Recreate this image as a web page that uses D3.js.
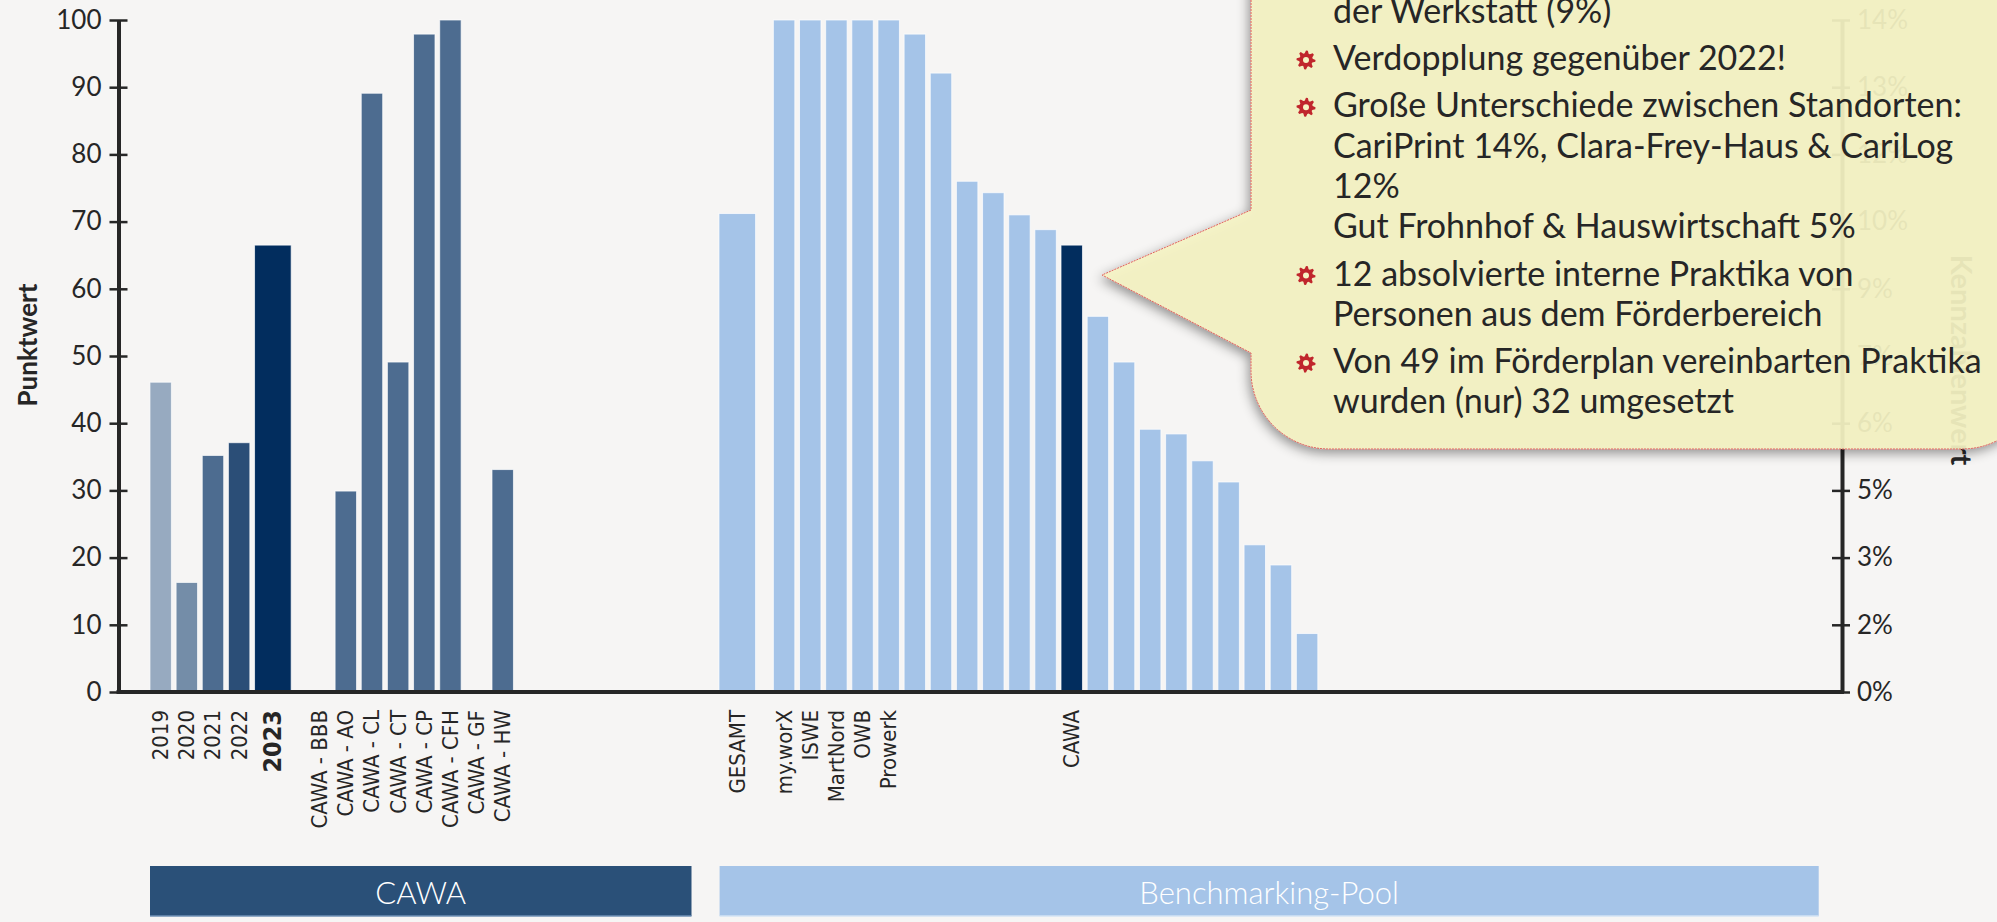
<!DOCTYPE html>
<html>
<head>
<meta charset="utf-8">
<script src="https://cdn.jsdelivr.net/npm/d3@7"></script>
<style>
  body { margin: 0; background: #f6f5f4; }
  svg { display: block; }
</style>
</head>
<body>
<script>
// chart values
var yearCats = ["2019", "2020", "2021", "2022", "2023"];
var yearVals = [46.1, 16.3, 35.2, 37.1, 66.5];
var siteCats = ["CAWA - BBB", "CAWA - AO", "CAWA - CL", "CAWA - CT", "CAWA - CP", "CAWA - CFH", "CAWA - GF", "CAWA - HW"];
var siteVals = [null, 29.9, 89.1, 49.1, 97.9, 100, null, 33.1];
var totalCat = "GESAMT";
var totalVal = 71.2;
var memberCats = ["my.worX", "ISWE", "MartNord", "OWB", "Prowerk", "", "", "", "", "", "", "CAWA", "", "", "", "", "", "", "", "", ""];
var memberVals = [100, 100, 100, 100, 100, 97.9, 92.1, 76.0, 74.3, 71.0, 68.8, 66.5, 55.9, 49.1, 39.1, 38.4, 34.4, 31.25, 21.9, 18.9, 8.7];
var yTicks = [0, 10, 20, 30, 40, 50, 60, 70, 80, 90, 100];
var rightTickLabels = ["0%", "2%", "3%", "5%", "6%", "7%", "9%", "10%", "12%", "13%", "14%"];
var groupNames = ["CAWA", "Benchmarking-Pool"];
var calloutParas = [
    ["der Werkstatt (9%)"],
    ["Verdopplung gegenüber 2022!"],
    ["Große Unterschiede zwischen Standorten:", "CariPrint 14%, Clara-Frey-Haus & CariLog", "12%", "Gut Frohnhof & Hauswirtschaft 5%"],
    ["12 absolvierte interne Praktika von", "Personen aus dem Förderbereich"],
    ["Von 49 im Förderplan vereinbarten Praktika", "wurden (nur) 32 umgesetzt"]
];

// styles
var yearColors = ["#97aac0", "#748da8", "#4d6c90", "#2b4e77", "#022d5e"];
var siteColor = "#4d6c90";
var poolColor = "#a5c4e8";
var focusColor = "#022d5e";
var ink = "#262626";
var W = 1997, H = 922;

// slot layout in "category units": wide bars for the current year and the pool total
var wideUnits = 1.58, afterWide = 0.5, groupGap = 7.68;
var slots = [];
var u = 0;
function addSlot(label, value, color, wide, bold) {
    var w = wide ? wideUnits : 1;
    slots.push({label: label, value: value, color: color, u0: u, u1: u + w, bold: bold});
    u += w;
    if (wide) u += afterWide;
}
yearCats.forEach(function(c, i) {
    var last = i === yearCats.length - 1;
    addSlot(c, yearVals[i], yearColors[i], last, last);
});
siteCats.forEach(function(c, i) { addSlot(c, siteVals[i], siteColor, false, false); });
u += groupGap;
addSlot(totalCat, totalVal, poolColor, true, false);
memberCats.forEach(function(c, i) { addSlot(c, memberVals[i], c === "CAWA" ? focusColor : poolColor, false, false); });

var step = 26.15, left0 = 147.6;
var x = d3.scaleLinear().domain([0, u]).range([left0, left0 + u * step]);
var y = d3.scaleLinear().domain([0, 100]).range([692, 20]);
var axisL = 118.5, axisR = 1842;

var svg = d3.select("body").append("svg")
        .attr("width", W)
        .attr("height", H);

svg.append("rect")
        .attr("width", W)
        .attr("height", H)
        .style("fill", "#f6f5f4");

var defs = svg.append("defs");
defs.append("filter")
        .attr("id", "shadow")
        .attr("x", "-10%").attr("y", "-10%")
        .attr("width", "130%").attr("height", "130%")
        .append("feDropShadow")
        .attr("dx", -2).attr("dy", 4)
        .attr("stdDeviation", 6)
        .attr("flood-color", "#000")
        .attr("flood-opacity", 0.45);

// bars
var pad = 0.09;
svg.append("g").selectAll("rect")
        .data(slots.filter(function(d) { return d.value != null; }))
        .enter()
        .append("rect")
        .attr("x", function(d) { return x(d.u0 + pad); })
        .attr("width", function(d) { return x(d.u1 - pad) - x(d.u0 + pad); })
        .attr("y", function(d) { return y(d.value); })
        .attr("height", function(d) { return y(0) - y(d.value); })
        .style("fill", function(d) { return d.color; })
        .style("stroke", "#ffffff")
        .style("stroke-opacity", 0.7)
        .style("stroke-width", 1);

// category labels, rotated
svg.append("g").selectAll("text")
        .data(slots.filter(function(d) { return d.label !== ""; }))
        .enter()
        .append("text")
        .attr("transform", function(d) { return "translate(" + x((d.u0 + d.u1) / 2) + ",710) rotate(-90)"; })
        .attr("text-anchor", "end")
        .attr("dominant-baseline", "central")
        .style("font-family", "'DejaVu Sans Condensed', 'DejaVu Sans', sans-serif")
        .style("font-stretch", "condensed")
        .style("font-size", function(d) { return d.bold ? "25px" : "22px"; })
        .style("font-weight", function(d) { return d.bold ? "bold" : "normal"; })
        .style("fill", ink)
        .text(function(d) { return d.label; });

// left axis
var gl = svg.append("g")
        .attr("transform", "translate(" + axisL + ",0)")
        .call(d3.axisLeft(y).tickValues(yTicks).tickSize(9).tickSizeOuter(0).tickPadding(8));
gl.select(".domain").attr("stroke", ink).attr("stroke-width", 4);
gl.selectAll(".tick line").attr("x1", 9).attr("stroke", ink).attr("stroke-width", 2.5);
gl.selectAll(".tick text")
        .style("font-family", "Lato, sans-serif")
        .style("font-size", "26px")
        .style("fill", ink);

// right axis, same grid with its own labels
var gr = svg.append("g")
        .attr("transform", "translate(" + axisR + ",0)")
        .call(d3.axisRight(y).tickValues(yTicks).tickSize(8).tickSizeOuter(0).tickPadding(7)
            .tickFormat(function(d, i) { return rightTickLabels[i]; }));
gr.select(".domain").attr("stroke", ink).attr("stroke-width", 4);
gr.selectAll(".tick line").attr("x1", -10).attr("stroke", ink).attr("stroke-width", 2.5);
gr.selectAll(".tick text")
        .style("font-family", "Lato, sans-serif")
        .style("font-size", "26px")
        .style("fill", ink);

// x axis line
svg.append("line")
        .attr("x1", axisL - 2).attr("x2", axisR + 2)
        .attr("y1", y(0)).attr("y2", y(0))
        .attr("stroke", ink)
        .attr("stroke-width", 4);

// axis titles
svg.append("text")
        .attr("transform", "translate(27," + (y(50) - 11) + ") rotate(-90)")
        .attr("text-anchor", "middle")
        .attr("dominant-baseline", "central")
        .style("font-family", "Lato, sans-serif")
        .style("font-weight", "bold")
        .style("font-size", "26px")
        .style("fill", ink)
        .text("Punktwert");

svg.append("text")
        .attr("transform", "translate(1962," + (y(50) + 4) + ") rotate(90)")
        .attr("text-anchor", "middle")
        .attr("dominant-baseline", "central")
        .style("font-family", "Lato, sans-serif")
        .style("font-weight", "bold")
        .style("font-size", "29px")
        .style("fill", ink)
        .text("Kennzahlenwert");

// group boxes under the axis
var groups = [
    {name: groupNames[0], x0: 150, x1: 691.5, fill: "#2a5078", edge: "#6f90b6"},
    {name: groupNames[1], x0: 719.6, x1: 1818.7, fill: "#a5c4e8", edge: "#d3e3f5"}
];
var gb = svg.append("g").selectAll("g")
        .data(groups)
        .enter()
        .append("g");
gb.append("rect")
        .attr("x", function(d) { return d.x0; })
        .attr("y", 866)
        .attr("width", function(d) { return d.x1 - d.x0; })
        .attr("height", 50)
        .style("fill", function(d) { return d.fill; });
gb.append("line")
        .attr("x1", function(d) { return d.x0; })
        .attr("x2", function(d) { return d.x1; })
        .attr("y1", 916).attr("y2", 916)
        .attr("stroke", function(d) { return d.edge; })
        .attr("stroke-width", 1.5);
gb.append("text")
        .attr("x", function(d) { return (d.x0 + d.x1) / 2; })
        .attr("y", 904)
        .attr("text-anchor", "middle")
        .style("font-family", "Lato, sans-serif")
        .style("font-weight", 300)
        .style("font-size", "31px")
        .style("fill", "#ffffff")
        .text(function(d) { return d.name; });

// callout bubble
var cl = 1251, cb = 449, cr = 2040, ct = -60, rad = 78;
var bubble = d3.path();
bubble.moveTo(cl, ct);
bubble.lineTo(cl, 210);
bubble.lineTo(1102, 275);
bubble.lineTo(cl, 353);
bubble.lineTo(cl, cb - rad);
bubble.arcTo(cl, cb, cl + rad, cb, rad);
bubble.lineTo(cr - rad, cb);
bubble.arcTo(cr, cb, cr, cb - rad, rad);
bubble.lineTo(cr, ct);
bubble.closePath();

svg.append("path")
        .attr("d", bubble.toString())
        .attr("filter", "url(#shadow)")
        .style("fill", "#f6f4c4")
        .style("fill-opacity", 0.9)
        .style("stroke", "#e0605a")
        .style("stroke-width", 1)
        .style("stroke-dasharray", "2,1");

// callout text
var textX = 1333, bulletX = 1306, lineH = 40.3, paraGap = 7;
var lines = [];
var ly = 22.7;
calloutParas.forEach(function(p, i) {
    if (i > 0) ly += lineH + paraGap;
    p.forEach(function(t, j) {
        if (j > 0) ly += lineH;
        lines.push({text: t, y: ly, bullet: i > 0 && j === 0});
    });
});

var ct2 = svg.append("g");
ct2.selectAll("text")
        .data(lines)
        .enter()
        .append("text")
        .attr("x", textX)
        .attr("y", function(d) { return d.y; })
        .style("font-family", "Lato, sans-serif")
        .style("font-size", "34px")
        .style("fill", ink)
        .text(function(d) { return d.text; });

// little red cog bullets
var cogPts = d3.range(32).map(function(i) {
    var a = i / 32 * 2 * Math.PI;
    var r = (Math.floor(i / 2) % 2 === 0) ? 9.5 : 6.8;
    return [a, r];
});
var cog = d3.lineRadial().curve(d3.curveLinearClosed)(cogPts);
var bullets = ct2.selectAll("g.bul")
        .data(lines.filter(function(d) { return d.bullet; }))
        .enter()
        .append("g")
        .attr("class", "bul")
        .attr("transform", function(d) { return "translate(" + bulletX + "," + (d.y - 10) + ")"; });
bullets.append("path")
        .attr("d", cog)
        .style("fill", "#c0262c");
bullets.append("circle")
        .attr("r", 3)
        .style("fill", "#f6f4c4");
</script>
</body>
</html>
